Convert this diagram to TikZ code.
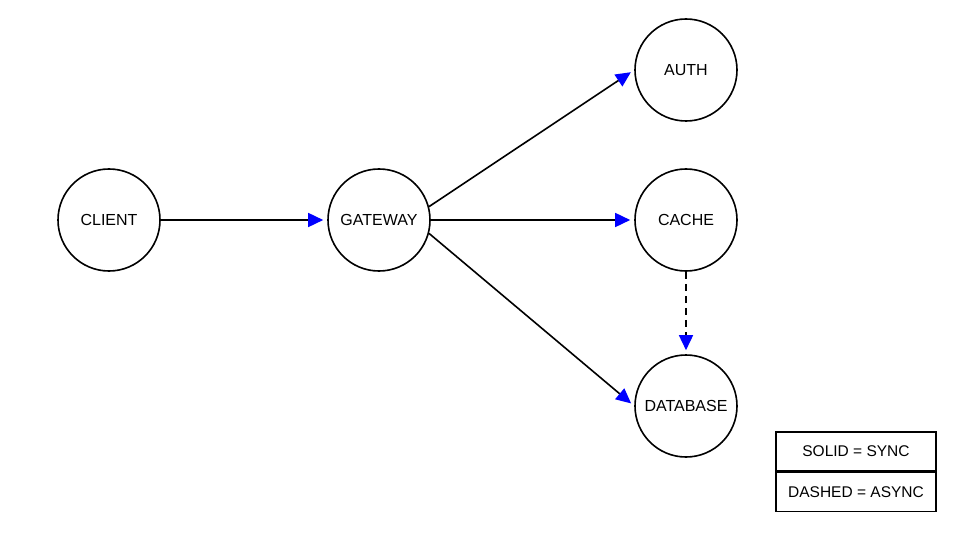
\documentclass[tikz,border=0pt]{standalone}
\usepackage{fontspec}
\setmainfont{Liberation Sans}
\usetikzlibrary{arrows.meta}
\begin{document}
\begin{tikzpicture}[x=1pt,y=-1pt,
  n/.style={circle,draw,line width=1.6pt,minimum size=102pt,inner sep=0pt,font=\fontsize{16}{19}\selectfont},
  e/.style={line width=1.6pt,-{Triangle[length=15pt,width=14pt,color=blue]},shorten >=4pt},
  lg/.style={draw,line width=1.2pt,minimum width=160pt,minimum height=39pt,inner sep=0pt,font=\fontsize{15.5}{18}\selectfont}]
\useasboundingbox (0,0) rectangle (960,540);
\fill[white] (0,0) rectangle (960,540);
\node[n] (client) at (109,220) {CLIENT};
\node[n] (gateway) at (379,220) {GATEWAY};
\node[n] (auth) at (686,70) {AUTH};
\node[n] (cache) at (686,220) {CACHE};
\node[n] (db) at (686,406) {DATABASE};
\draw[e] (client) -- (gateway);
\draw[e] (gateway.15) -- (auth.west);
\draw[e] (gateway) -- (cache);
\draw[e] (gateway.-15) -- (db.west);
\draw[e,dash pattern=on 7pt off 5pt] (cache) -- (db);
\node[lg] (l1) at (856,451.5) {SOLID = SYNC};
\node[lg,anchor=north] (l2) at (l1.south) {DASHED = ASYNC};
\end{tikzpicture}
\end{document}
